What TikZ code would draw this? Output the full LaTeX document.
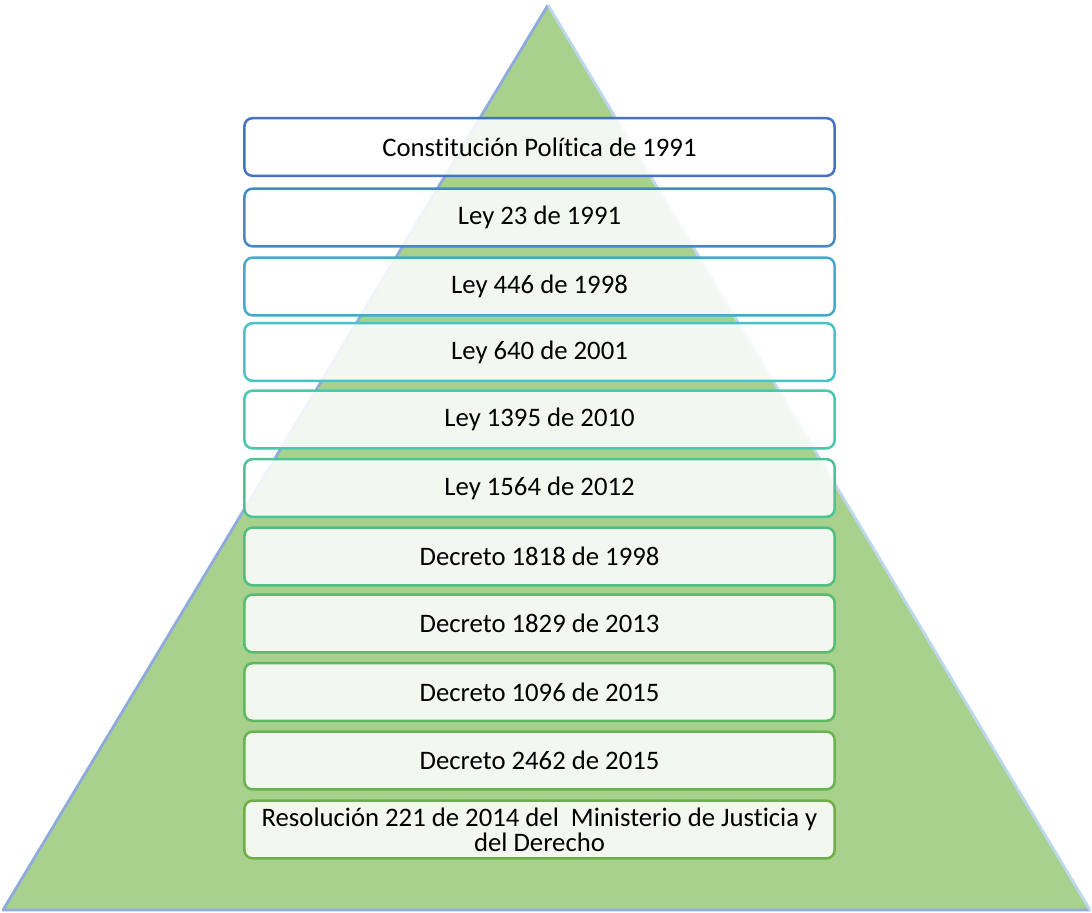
\documentclass[tikz,border=0pt]{standalone}
\usepackage{fontspec}
\setmainfont{Carlito}[Ligatures=NoCommon]

\definecolor{piramide}{RGB}{169,209,142}
\definecolor{bordepir}{RGB}{143,170,220}
\definecolor{ladopir}{RGB}{189,215,238}
\definecolor{nivel1}{RGB}{68,114,196}
\definecolor{nivel2}{RGB}{68,138,200}
\definecolor{nivel3}{RGB}{70,168,204}
\definecolor{nivel4}{RGB}{72,196,200}
\definecolor{nivel5}{RGB}{72,200,172}
\definecolor{nivel6}{RGB}{75,196,150}
\definecolor{nivel7}{RGB}{80,190,126}
\definecolor{nivel8}{RGB}{86,188,110}
\definecolor{nivel9}{RGB}{95,184,94}
\definecolor{nivel10}{RGB}{104,179,80}
\definecolor{nivel11}{RGB}{112,173,71}

\begin{document}
\begin{tikzpicture}[x=0.025cm, y=-0.025cm,
  norma/.style={draw, line width=1.8pt, rounded corners=0.2cm,
    fill=white, fill opacity=0.86, text opacity=1,
    minimum width=14.75cm, minimum height=1.44cm, inner sep=1pt,
    font=\fontsize{19}{17.8}\selectfont, align=center}]
  \useasboundingbox (0,0) rectangle (1092,913);

  % piramide
  \fill[piramide] (548,5) -- (1090,910) -- (3,910) -- cycle;
  \draw[bordepir, line width=2pt, line join=round] (1090,910) -- (3,910) -- (548,5);
  \draw[ladopir, line width=2pt] (548,5) -- (1090,910);

  % normas
  \node[norma, draw=nivel1] (constitucion) at (539.5,147) {Constitución Política de 1991};
  \node[norma, draw=nivel2] (ley23) at (539.5,217.5) {Ley 23 de 1991};
  \node[norma, draw=nivel3] (ley446) at (539.5,286.5) {Ley 446 de 1998};
  \node[norma, draw=nivel4] (ley640) at (539.5,352) {Ley 640 de 2001};
  \node[norma, draw=nivel5] (ley1395) at (539.5,419.5) {Ley 1395 de 2010};
  \node[norma, draw=nivel6] (ley1564) at (539.5,488) {Ley 1564 de 2012};
  \node[norma, draw=nivel7] (dec1818) at (539.5,556.5) {Decreto 1818 de 1998};
  \node[norma, draw=nivel8] (dec1829) at (539.5,623.5) {Decreto 1829 de 2013};
  \node[norma, draw=nivel9] (dec1096) at (539.5,692) {Decreto 1096 de 2015};
  \node[norma, draw=nivel10] (dec2462) at (539.5,760.5) {Decreto 2462 de 2015};
  \node[norma, draw=nivel11] (res221) at (539.5,829.5) {Resolución 221 de 2014 del\ \ Ministerio de Justicia y\\del Derecho};

\end{tikzpicture}
\end{document}
